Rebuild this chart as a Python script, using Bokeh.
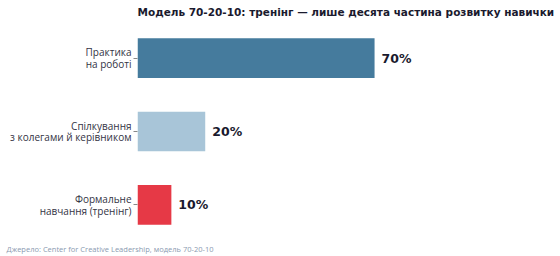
from bokeh.plotting import figure
from bokeh.models import ColumnDataSource, FactorRange, Range1d, Title
from bokeh.core.properties import value
from bokeh.embed import file_html
from bokeh.resources import INLINE

categories = ["Практика\nна роботі", "Спілкування\nз колегами й керівником", "Формальне\nнавчання (тренінг)"]
values = [70, 20, 10]
value_labels = ["70%", "20%", "10%"]
colors = ["#457b9d", "#a8c5d8", "#e63946"]

src = ColumnDataSource(dict(cat=categories, val=values, lab=value_labels, color=colors))

p = figure(width=560, height=256, output_backend="svg", toolbar_location=None,
           y_range=FactorRange(*categories[::-1]), x_range=Range1d(0, 119),
           min_border_left=137, min_border_right=20, min_border_bottom=15, min_border_top=0)

p.hbar(y="cat", right="val", left=0, height=0.54, color="color", source=src, line_color=None)
p.text(x="val", y="cat", text="lab", source=src, x_offset=7, text_baseline="middle",
       text_align="left", text_font=value("DejaVu Sans"), text_font_size="12.5px",
       text_font_style="bold", text_color="#1a1a2e")

p.title.text = "Модель 70-20-10: тренінг — лише десята частина розвитку навички"
p.title.text_font = "DejaVu Sans"
p.title.text_font_size = "10.5px"
p.title.text_font_style = "bold"
p.title.text_color = "#1a1a2e"
p.title.align = "left"
p.title.standoff = 7

p.xaxis.visible = False
p.xgrid.visible = False
p.ygrid.visible = False
p.outline_line_color = None
p.yaxis.axis_line_color = None
p.yaxis.major_tick_line_color = "#888888"
p.yaxis.major_tick_in = 0
p.yaxis.major_tick_out = 4
p.yaxis.minor_tick_line_color = None
p.yaxis.major_label_text_font = "Open Sans"
p.yaxis.major_label_text_font_size = "10px"
p.yaxis.major_label_text_color = "#333344"
p.yaxis.major_label_text_line_height = 0.85
p.yaxis.major_label_standoff = 2

src_title = Title(text="Джерело: Center for Creative Leadership, модель 70-20-10",
                  text_font="Open Sans", text_font_size="7.5px", text_font_style="normal",
                  text_color="#8a9ab0", align="left", offset=-131, standoff=0)
p.add_layout(src_title, "below")

open("out.html", "w").write(file_html(p, INLINE))
